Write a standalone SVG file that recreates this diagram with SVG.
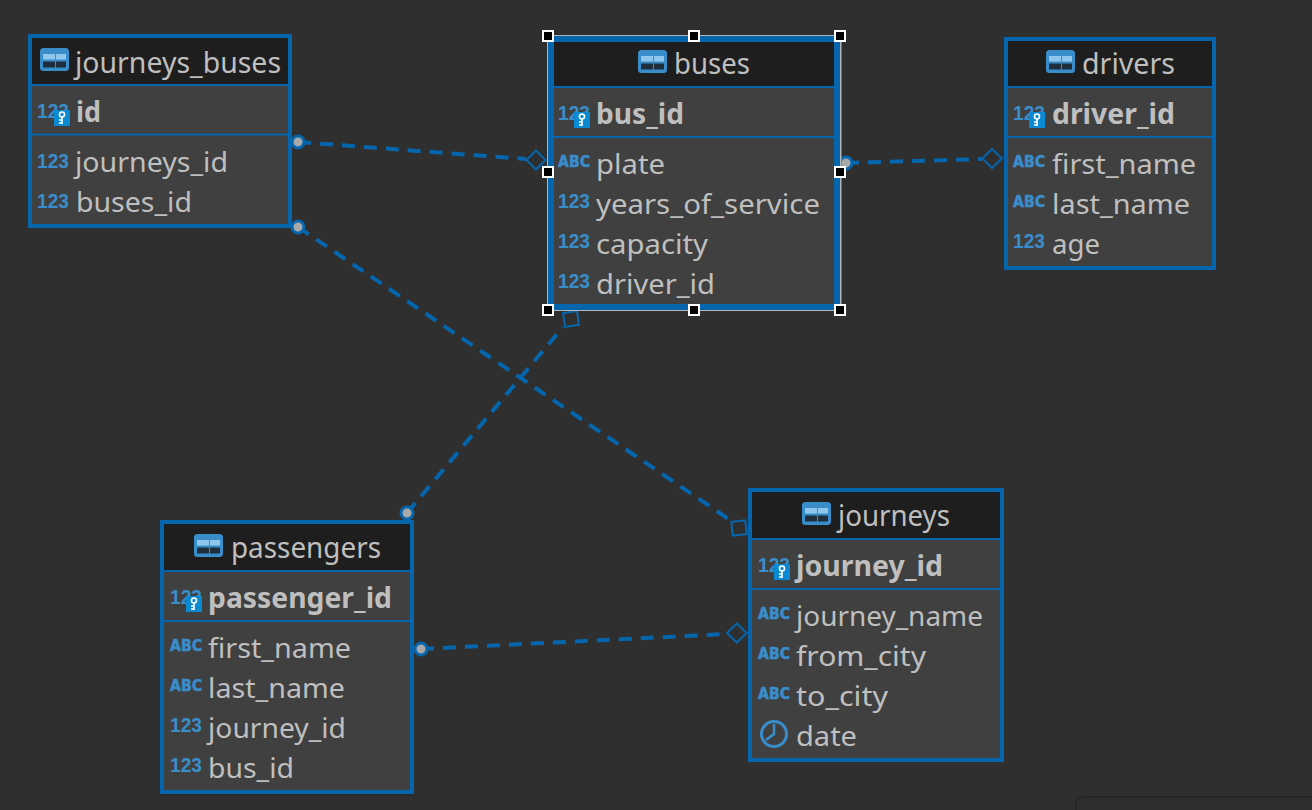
<svg xmlns="http://www.w3.org/2000/svg" width="1312" height="810" viewBox="0 0 1312 810">
<style>
.bg{fill:#2f2f2f}
.tb{fill:#404040;stroke:#0565ad;stroke-width:4}
.hd{fill:#1e1e1e}
.sep{stroke:#0565ad;stroke-width:2}
text{font-family:"Noto Sans","Open Sans","DejaVu Sans",sans-serif;fill:#bfbfbf}
.t{font-size:29px}
.r{font-size:28px}
.b{font-size:28px;font-weight:700}
.i{font-family:"Liberation Sans",Arial,sans-serif;font-size:21px;font-weight:700;fill:#3a8dcb}
.a{font-family:"DejaVu Sans",sans-serif;font-size:16.5px;font-weight:700;fill:#3a8dcb;stroke:#3a8dcb;stroke-width:.6}
.c{fill:none;stroke:#0565ad;stroke-width:4;stroke-dasharray:13 9}
.dot{fill:#a9a9a9;stroke:#0565ad;stroke-width:3}
.end{fill:none;stroke:#0565ad;stroke-width:2}
.h{fill:#000;stroke:#fff;stroke-width:2}
</style>
<defs>
<symbol id="ti" width="29" height="23" viewBox="0 0 29 23">
<rect width="29" height="23" rx="3.5" fill="#3a8dcb"/>
<rect x="3" y="6" width="12" height="5.500" fill="#8ec6ec"/><rect x="16" y="6" width="10" height="5.500" fill="#8ec6ec"/>
<rect x="3" y="13.500" width="12" height="6" fill="#1f2e3c"/><rect x="16" y="13.500" width="10" height="6" fill="#1f2e3c"/>
</symbol>
<symbol id="ki" width="16" height="16" viewBox="0 0 16 16">
<rect width="16" height="16" fill="#0a8ad2"/>
<circle cx="8" cy="4.500" r="2.500" fill="none" stroke="#fff" stroke-width="1.600"/>
<path d="M8 7V14M8 10H5M8 13H5" fill="none" stroke="#fff" stroke-width="1.600"/>
</symbol>
</defs>
<rect class="bg" width="1312" height="810"/>
<path d="M0 795H1075" stroke="#2a2a2a" stroke-width="1"/>
<path d="M1076 810V804Q1076 797 1083 797H1312" fill="none" stroke="#262626" stroke-width="2"/>

<g id="connectors">
<path class="c" d="M298 142L526 159"/>
<circle class="dot" cx="298" cy="142" r="6"/>
<path class="end" d="M536 150.500L545.500 160L536 169.500L526.500 160Z"/>
<path class="c" d="M298 227L733 522"/>
<circle class="dot" cx="298" cy="227" r="6"/>
<rect class="end" x="732" y="521" width="14" height="14" transform="rotate(-6 739 528)"/>
<path class="c" d="M846 163L982 159"/>
<circle class="dot" cx="846" cy="163" r="6"/>
<path class="end" d="M992 149L1002 158.500L992 168L982.500 158.500Z"/>
<path class="c" d="M407 513L563 327"/>
<circle class="dot" cx="407" cy="513" r="6"/>
<rect class="end" x="564" y="312" width="14" height="14" transform="rotate(-8 571 319)"/>
<path class="c" d="M421 649L727 634"/>
<circle class="dot" cx="421" cy="649" r="6"/>
<path class="end" d="M737 623.500L746.500 633L737 642.500L727 633Z"/>
</g>

<g id="journeys_buses">
<rect class="tb" x="30" y="36" width="260" height="190"/>
<rect class="hd" x="32" y="38" width="256" height="46"/>
<path class="sep" d="M32 85H288M32 134.500H288"/>
<use href="#ti" x="40" y="48"/>
<text class="t" x="75" y="73" textLength="206" lengthAdjust="spacingAndGlyphs">journeys_buses</text>
<text class="i" x="37" y="118" textLength="32" lengthAdjust="spacingAndGlyphs">123</text><use href="#ki" x="54" y="110"/>
<text class="b" x="76" y="122" textLength="25" lengthAdjust="spacingAndGlyphs">id</text>
<text class="i" x="37" y="168" textLength="32" lengthAdjust="spacingAndGlyphs">123</text>
<text class="r" x="75" y="172" textLength="153" lengthAdjust="spacingAndGlyphs">journeys_id</text>
<text class="i" x="37" y="208" textLength="32" lengthAdjust="spacingAndGlyphs">123</text>
<text class="r" x="76" y="212" textLength="116" lengthAdjust="spacingAndGlyphs">buses_id</text>
</g>

<g id="buses">
<rect x="548" y="36" width="292.500" height="274" fill="none" stroke="#b5b5b5" stroke-width="2"/>
<rect x="551" y="39" width="286" height="268" fill="#404040" stroke="#0565ad" stroke-width="6"/>
<rect class="hd" x="554" y="42" width="280" height="44"/>
<path class="sep" d="M554 87H834M554 137H834"/>
<use href="#ti" x="638" y="50"/>
<text class="t" x="674" y="74" textLength="76" lengthAdjust="spacingAndGlyphs">buses</text>
<text class="i" x="558" y="120" textLength="32" lengthAdjust="spacingAndGlyphs">123</text><use href="#ki" x="574" y="112"/>
<text class="b" x="596" y="124" textLength="88" lengthAdjust="spacingAndGlyphs">bus_id</text>
<text class="a" x="558" y="167" textLength="32" lengthAdjust="spacingAndGlyphs">ABC</text>
<text class="r" x="596" y="174" textLength="69" lengthAdjust="spacingAndGlyphs">plate</text>
<text class="i" x="558" y="208" textLength="32" lengthAdjust="spacingAndGlyphs">123</text>
<text class="r" x="596" y="214" textLength="224" lengthAdjust="spacingAndGlyphs">years_of_service</text>
<text class="i" x="558" y="248" textLength="32" lengthAdjust="spacingAndGlyphs">123</text>
<text class="r" x="596" y="254" textLength="112" lengthAdjust="spacingAndGlyphs">capacity</text>
<text class="i" x="558" y="288" textLength="32" lengthAdjust="spacingAndGlyphs">123</text>
<text class="r" x="596" y="294" textLength="119" lengthAdjust="spacingAndGlyphs">driver_id</text>
<rect class="h" x="543" y="31" width="10" height="10"/><rect class="h" x="689" y="31" width="10" height="10"/><rect class="h" x="835" y="31" width="10" height="10"/>
<rect class="h" x="543" y="167" width="10" height="10"/><rect class="h" x="835" y="167" width="10" height="10"/>
<rect class="h" x="543" y="305" width="10" height="10"/><rect class="h" x="689" y="305" width="10" height="10"/><rect class="h" x="835" y="305" width="10" height="10"/>
</g>

<g id="drivers">
<rect class="tb" x="1006" y="39" width="208" height="229"/>
<rect class="hd" x="1008" y="41" width="204" height="45"/>
<path class="sep" d="M1008 87H1212M1008 137H1212"/>
<use href="#ti" x="1046" y="50"/>
<text class="t" x="1082" y="74" textLength="93" lengthAdjust="spacingAndGlyphs">drivers</text>
<text class="i" x="1013" y="120" textLength="32" lengthAdjust="spacingAndGlyphs">123</text><use href="#ki" x="1029" y="112"/>
<text class="b" x="1052" y="124" textLength="123" lengthAdjust="spacingAndGlyphs">driver_id</text>
<text class="a" x="1013" y="167" textLength="32" lengthAdjust="spacingAndGlyphs">ABC</text>
<text class="r" x="1052" y="174" textLength="144" lengthAdjust="spacingAndGlyphs">first_name</text>
<text class="a" x="1013" y="207" textLength="32" lengthAdjust="spacingAndGlyphs">ABC</text>
<text class="r" x="1052" y="214" textLength="138" lengthAdjust="spacingAndGlyphs">last_name</text>
<text class="i" x="1013" y="248" textLength="32" lengthAdjust="spacingAndGlyphs">123</text>
<text class="r" x="1052" y="254" textLength="48" lengthAdjust="spacingAndGlyphs">age</text>
</g>

<g id="journeys">
<rect class="tb" x="750" y="490" width="252" height="270"/>
<rect class="hd" x="752" y="492" width="248" height="46"/>
<path class="sep" d="M752 539H1000M752 589H1000"/>
<use href="#ti" x="802" y="502"/>
<text class="t" x="838" y="526" textLength="112" lengthAdjust="spacingAndGlyphs">journeys</text>
<text class="i" x="758" y="572" textLength="32" lengthAdjust="spacingAndGlyphs">123</text><use href="#ki" x="774" y="564"/>
<text class="b" x="796" y="576" textLength="147" lengthAdjust="spacingAndGlyphs">journey_id</text>
<text class="a" x="758" y="619" textLength="32" lengthAdjust="spacingAndGlyphs">ABC</text>
<text class="r" x="796" y="626" textLength="187" lengthAdjust="spacingAndGlyphs">journey_name</text>
<text class="a" x="758" y="659" textLength="32" lengthAdjust="spacingAndGlyphs">ABC</text>
<text class="r" x="796" y="666" textLength="130" lengthAdjust="spacingAndGlyphs">from_city</text>
<text class="a" x="758" y="699" textLength="32" lengthAdjust="spacingAndGlyphs">ABC</text>
<text class="r" x="796" y="706" textLength="92" lengthAdjust="spacingAndGlyphs">to_city</text>
<circle cx="774" cy="734" r="12.500" fill="none" stroke="#3a8dcb" stroke-width="3"/>
<path d="M774 724V734L766 740" fill="none" stroke="#3a8dcb" stroke-width="2.500"/>
<text class="r" x="796" y="746" textLength="61" lengthAdjust="spacingAndGlyphs">date</text>
</g>

<g id="passengers">
<rect class="tb" x="162" y="522" width="250" height="270"/>
<rect class="hd" x="164" y="524" width="246" height="46"/>
<path class="sep" d="M164 571H410M164 621H410"/>
<use href="#ti" x="194" y="534"/>
<text class="t" x="231" y="558" textLength="150" lengthAdjust="spacingAndGlyphs">passengers</text>
<text class="i" x="170" y="604" textLength="32" lengthAdjust="spacingAndGlyphs">123</text><use href="#ki" x="186" y="596"/>
<text class="b" x="208" y="608" textLength="184" lengthAdjust="spacingAndGlyphs">passenger_id</text>
<text class="a" x="170" y="651" textLength="32" lengthAdjust="spacingAndGlyphs">ABC</text>
<text class="r" x="208" y="658" textLength="143" lengthAdjust="spacingAndGlyphs">first_name</text>
<text class="a" x="170" y="691" textLength="32" lengthAdjust="spacingAndGlyphs">ABC</text>
<text class="r" x="208" y="698" textLength="137" lengthAdjust="spacingAndGlyphs">last_name</text>
<text class="i" x="170" y="732" textLength="32" lengthAdjust="spacingAndGlyphs">123</text>
<text class="r" x="208" y="738" textLength="138" lengthAdjust="spacingAndGlyphs">journey_id</text>
<text class="i" x="170" y="772" textLength="32" lengthAdjust="spacingAndGlyphs">123</text>
<text class="r" x="208" y="778" textLength="86" lengthAdjust="spacingAndGlyphs">bus_id</text>
</g>
</svg>
